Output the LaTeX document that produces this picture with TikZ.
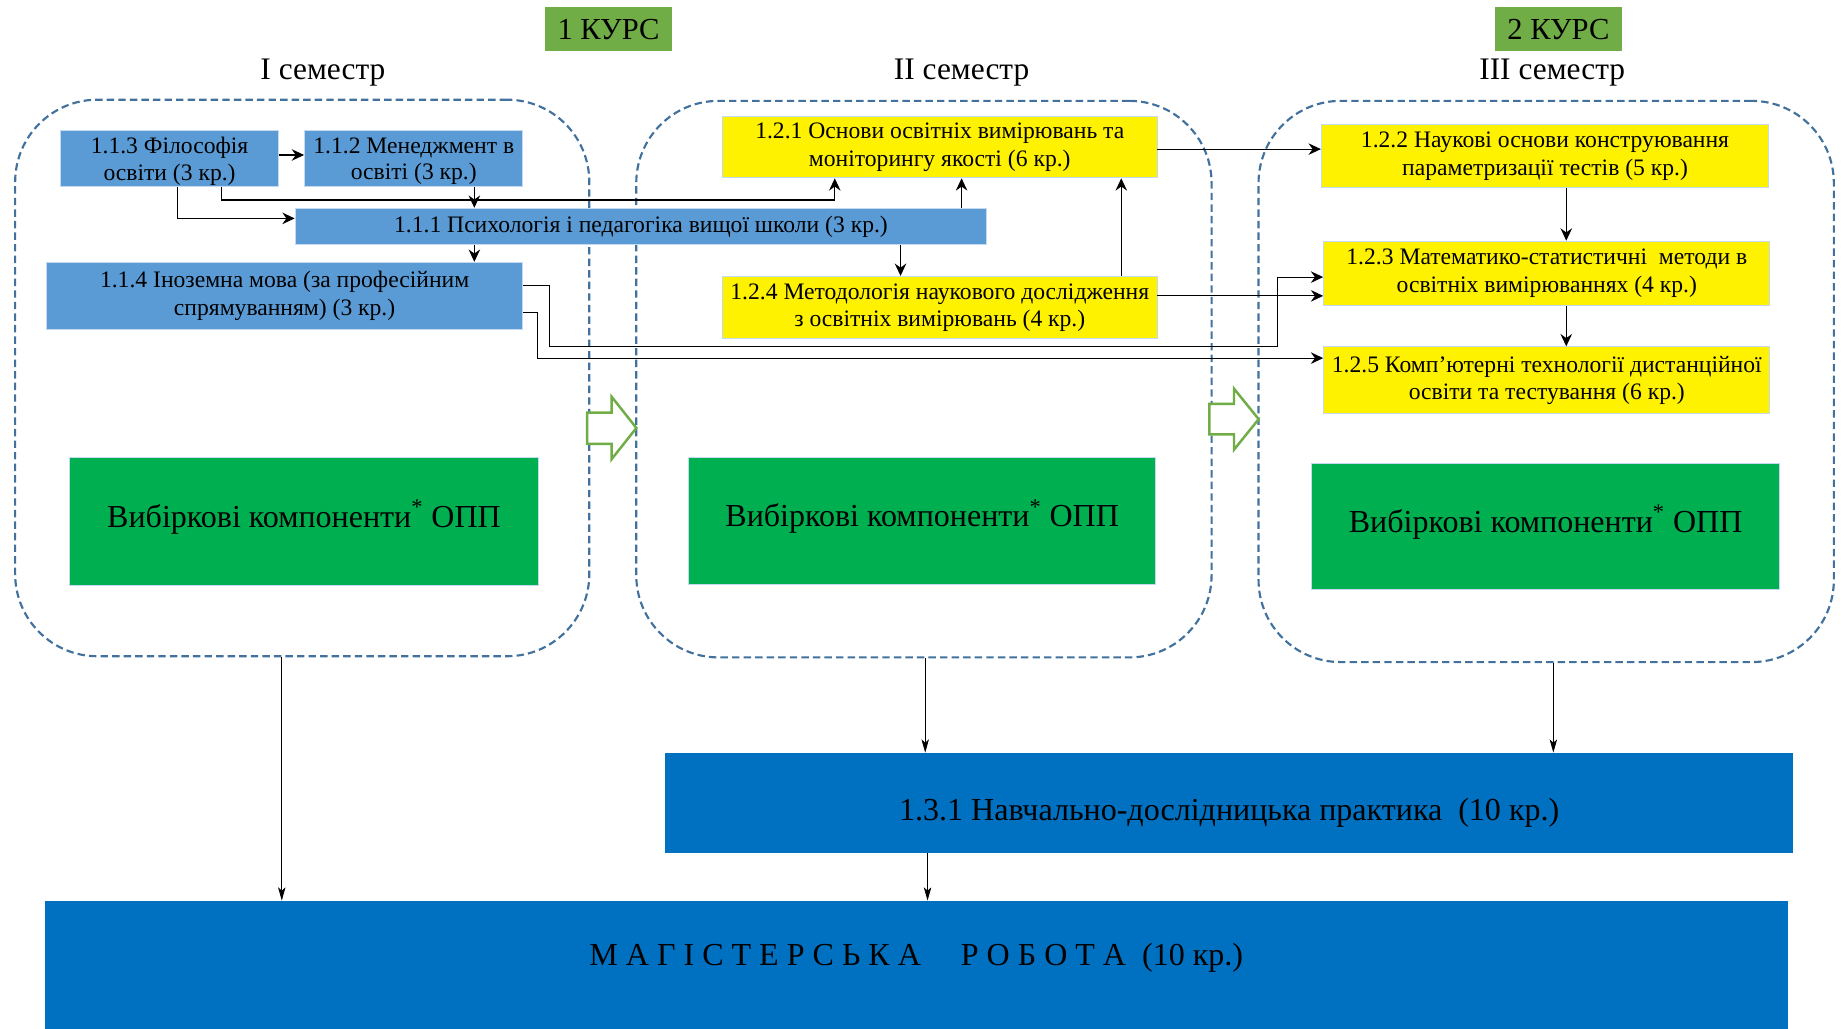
\documentclass[tikz,border=0pt]{standalone}
\usepackage{fontspec}
\setmainfont{Liberation Serif}
\usepackage{xcolor}
\usetikzlibrary{arrows.meta,calc,positioning}

\definecolor{lblue}{HTML}{5B9BD5}
\definecolor{dblue}{HTML}{0070C0}
\definecolor{optgreen}{HTML}{00B050}
\definecolor{kursgreen}{HTML}{70AD47}
\definecolor{semdash}{HTML}{41719C}
\definecolor{edgeblue}{HTML}{C5D9F1}

\begin{document}
\begin{tikzpicture}[x=0.025cm, y=-0.025cm,
    wh/.style 2 args={minimum width=#1*0.025cm, minimum height=#2*0.025cm},
    box/.style={anchor=north west, inner sep=1pt, align=center, draw=edgeblue, line width=0.6pt,
        font=\fontsize{14.3}{16.7}\selectfont},
    bluebox/.style={box, fill=lblue},
    yelbox/.style={box, fill=yellow},
    optbox/.style={box, fill=optgreen, font=\fontsize{19.4}{22}\selectfont},
    bigbox/.style={box, fill=dblue, draw=none, font=\fontsize{19.4}{22}\selectfont},
    kurs/.style={anchor=north west, fill=kursgreen, inner sep=0pt, font=\fontsize{18.5}{21}\selectfont},
    semlbl/.style={font=\fontsize{19}{22}\selectfont},
    sem/.style={anchor=north west, draw=semdash, line width=1.3pt, dash pattern=on 4.5pt off 2.5pt,
        rounded corners=1.75cm},
    arr/.style={-{Stealth[length=7.5pt, width=7pt, inset=2.5pt]}, line width=0.7pt},
    darr/.style={-{Stealth[length=8pt, width=4.5pt, inset=2pt]}, line width=0.5pt},
    barrow/.style={draw=kursgreen, line width=1.5pt, fill=white},
]
    % Frame
    \useasboundingbox (0,0) rectangle (1568,876);

    % Courses and semesters
    \node[kurs, wh={108}{37}] (k1) at (464,6) {1 КУРС};
    \node[kurs, wh={108}{37}] (k2) at (1273,6) {2 КУРС};
    \node[semlbl] (t1) at (275,62) {I семестр};
    \node[semlbl] (t2) at (819,62) {II семестр};
    \node[semlbl] (t3) at (1322,62) {III семестр};

    % Semester frames
    \node[sem, wh={489}{474}] (sem1) at (12,84) {};
    \node[sem, wh={490}{474}] (sem2) at (541,85) {};
    \node[sem, wh={490}{478}] (sem3) at (1071,85) {};

    % Move to next semester
    \draw[barrow] (500,351.5) -- (521,351.5) -- (521,338) -- (542,364.5) -- (521,391) -- (521,378) -- (500,378) -- cycle;
    \draw[barrow] (1030,344) -- (1051,344) -- (1051,331) -- (1072,357) -- (1051,383) -- (1051,370) -- (1030,370) -- cycle;

    % I semester
    \node[bluebox, wh={186}{47}] (f113) at (51,111) {\raisebox{-0.06cm}[\height][\depth]{\shortstack{1.1.3 Філософія\\освіти (3 кр.)}}};
    \node[bluebox, wh={186}{47}] (f112) at (259,111) {\raisebox{-0.06cm}[\height][\depth]{\shortstack{1.1.2 Менеджмент в\\освіті (3 кр.)}}};
    \node[bluebox, wh={589}{31}] (f111) at (251,177) {1.1.1 Психологія і педагогіка вищої школи (3 кр.)};
    \node[bluebox, wh={406}{57}] (f114) at (39,223) {1.1.4 Іноземна мова (за професійним\\спрямуванням) (3 кр.)};

    % II semester
    \node[yelbox, wh={370}{52}] (o121) at (615,99) {1.2.1 Основи освітніх вимірювань та\\моніторингу якості (6 кр.)};
    \node[yelbox, wh={370}{53}] (o124) at (615,235) {1.2.4 Методологія наукового дослідження\\з освітніх вимірювань (4 кр.)};

    % III semester
    \node[yelbox, wh={381}{53}] (o122) at (1125,106) {1.2.2 Наукові основи конструювання\\параметризації тестів (5 кр.)};
    \node[yelbox, wh={380}{55}] (o123) at (1127,205) {1.2.3 Математико-статистичні\ \ методи в\\освітніх вимірюваннях (4 кр.)};
    \node[yelbox, wh={380}{57}] (o125) at (1127,295) {1.2.5 Комп’ютерні технології дистанційної\\освіти та тестування (6 кр.)};

    % Elective blocks
    \node[optbox, wh={399}{109}] (g1) at (59,389) {\raisebox{0.09cm}[\height][\depth]{Вибіркові компоненти\textsuperscript{*} ОПП}};
    \node[optbox, wh={398}{108}] (g2) at (586,389) {\raisebox{0.09cm}[\height][\depth]{Вибіркові компоненти\textsuperscript{*} ОПП}};
    \node[optbox, wh={398}{108}] (g3) at (1117,394) {\raisebox{0.09cm}[\height][\depth]{Вибіркові компоненти\textsuperscript{*} ОПП}};

    % Practice and thesis
    \node[bigbox, wh={961}{85}] (prac) at (566,641) {\raisebox{-0.21cm}[\height][\depth]{1.3.1 Навчально-дослідницька практика\ \ (10 кр.)}};
    \node[bigbox, wh={1484}{109}] (mag) at (38,767) {\raisebox{0.16cm}[\height][\depth]{М А Г І С Т Е Р С Ь К А\quad\ Р О Б О Т А\ \ (10 кр.)}};

    % Links inside the first year
    \draw[arr] (f113.east |- 0,132) -- (f112.west |- 0,132);
    \draw[arr] (f113.south -| 151,0) |- (f111.west |- 0,186);
    \draw[arr] (f113.south -| 189,0) -- ++(0,11.5) -| (o121.south -| 711,0);
    \draw[arr] (f112.south -| 404,0) -- (f111.north -| 404,0);
    \draw[arr] (f111.south -| 404,0) -- (f114.north -| 404,0);
    \draw[arr] (f111.north -| 819,0) -- (o121.south -| 819,0);
    \draw[arr] (f111.south -| 767,0) -- (o124.north -| 767,0);
    \draw[arr] (o124.north -| 955,0) -- (o121.south -| 955,0);

    % Links to the third semester
    \draw[arr] (o121.east |- 0,127) -- (o122.west |- 0,127);
    \draw[arr] (o124.east |- 0,252) -- (o123.west |- 0,252);
    \draw[arr] (f114.east |- 0,243) -- ++(22,0) |- (1088,295) |- (o123.west |- 0,236);
    \draw[arr] (f114.east |- 0,266) -- ++(12,0) |- (o125.west |- 0,305);
    \draw[arr] (o122.south -| 1334,0) -- (o123.north -| 1334,0);
    \draw[arr] (o123.south -| 1334,0) -- (o125.north -| 1334,0);

    % Down to practice and thesis
    \draw[darr] (sem1.south -| 240,0) -- (mag.north -| 240,0);
    \draw[darr] (sem2.south -| 788,0) -- (prac.north -| 788,0);
    \draw[darr] (sem3.south -| 1323,0) -- (prac.north -| 1323,0);
    \draw[darr] (prac.south -| 790,0) -- (mag.north -| 790,0);
\end{tikzpicture}
\end{document}
